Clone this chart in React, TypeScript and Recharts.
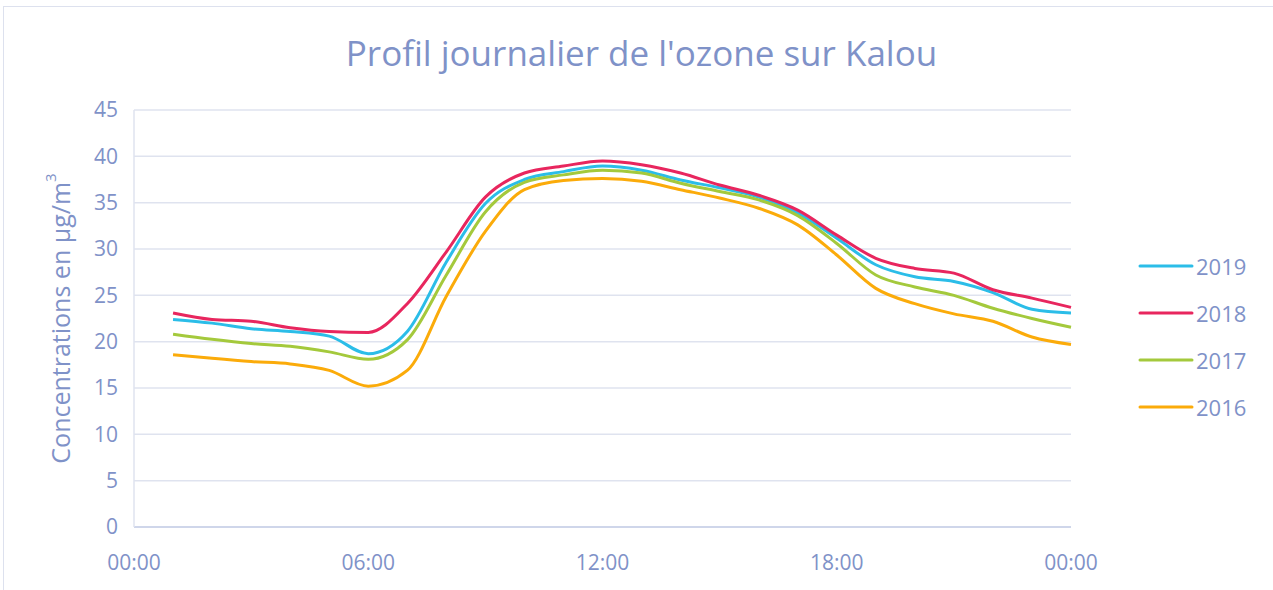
import React from "react";
import {
  LineChart,
  Line,
  XAxis,
  YAxis,
  CartesianGrid,
  Label,
} from "recharts";

const hours = [1, 2, 3, 4, 5, 6, 7, 8, 9, 10, 11, 12, 13, 14, 15, 16, 17, 18, 19, 20, 21, 22, 23, 24];

const s2019 = [22.4, 22.0, 21.4, 21.1, 20.6, 18.7, 21.1, 28.6, 34.9, 37.5, 38.35, 38.95, 38.5, 37.45, 36.6, 35.6, 33.9, 31.15, 28.3, 27.0, 26.5, 25.3, 23.5, 23.1];
const s2018 = [23.1, 22.4, 22.2, 21.5, 21.1, 21.0, 24.1, 29.7, 35.6, 38.2, 38.95, 39.5, 39.1, 38.2, 36.9, 35.8, 34.2, 31.5, 29.0, 27.9, 27.4, 25.6, 24.7, 23.7];
const s2017 = [20.8, 20.25, 19.8, 19.5, 18.9, 18.1, 20.2, 27.2, 34.0, 37.2, 38.0, 38.5, 38.2, 37.1, 36.2, 35.3, 33.6, 30.6, 27.2, 25.9, 25.0, 23.6, 22.5, 21.55];
const s2016 = [18.6, 18.2, 17.85, 17.6, 16.9, 15.2, 16.9, 24.9, 31.9, 36.4, 37.4, 37.6, 37.3, 36.4, 35.5, 34.4, 32.6, 29.35, 25.75, 24.1, 23.0, 22.2, 20.5, 19.7];

const xTicks = [0, 6, 12, 18, 24];
const xTickLabels = ["00:00", "06:00", "12:00", "18:00", "00:00"];
const yTicks = [0, 5, 10, 15, 20, 25, 30, 35, 40, 45];

const series = [
  { key: "y2019", name: "2019", color: "#2bbde8", values: s2019 },
  { key: "y2018", name: "2018", color: "#e8265e", values: s2018 },
  { key: "y2017", name: "2017", color: "#a4c93c", values: s2017 },
  { key: "y2016", name: "2016", color: "#fbab0a", values: s2016 },
];

const data = hours.map((h, i) => {
  const row: Record<string, number> = { hour: h };
  series.forEach((s) => {
    row[s.key] = s.values[i];
  });
  return row;
});

const textColor = "#7f92c8";
const font = "'Open Sans', 'Noto Sans', sans-serif";

function LegendBox() {
  return (
    <div
      style={{
        position: "absolute",
        left: 1137,
        top: 242,
        fontFamily: font,
      }}
    >
      {series.map((s) => (
        <div
          key={s.key}
          style={{ display: "flex", alignItems: "center", height: 47 }}
        >
          <svg width={59} height={10}>
            <line
              x1={3}
              y1={5}
              x2={55}
              y2={5}
              stroke={s.color}
              strokeWidth={3}
              strokeLinecap="round"
            />
          </svg>
          <span style={{ color: textColor, fontSize: 22 }}>{s.name}</span>
        </div>
      ))}
    </div>
  );
}

export default function App() {
  return (
    <div
      style={{
        position: "absolute",
        left: 0,
        top: 0,
        width: 1273,
        height: 590,
        background: "#fff",
        overflow: "hidden",
        fontFamily: font,
      }}
    >
      <div
        style={{
          position: "absolute",
          left: 3,
          top: 6,
          width: 1290,
          height: 620,
          border: "1px solid #dde1ee",
        }}
      />
      <div
        style={{
          position: "absolute",
          top: 29,
          left: 0,
          width: 1283,
          textAlign: "center",
          fontSize: 35,
          color: textColor,
        }}
      >
        Profil journalier de l'ozone sur Kalou
      </div>
      <LineChart
        width={1273}
        height={590}
        data={data}
        margin={{ top: 110, right: 202, bottom: 0, left: 0 }}
        style={{ position: "absolute", left: 0, top: 0 }}
      >
        <CartesianGrid vertical={false} stroke="#dfe3ef" strokeWidth={1.5} />
        <XAxis
          dataKey="hour"
          type="number"
          domain={[0, 24]}
          ticks={xTicks}
          tickFormatter={(v: number) => xTickLabels[xTicks.indexOf(v)]}
          height={63}
          tickLine={false}
          tickSize={0}
          tickMargin={28}
          stroke="#cfd6ea"
          strokeWidth={2}
          tick={{ fill: textColor, fontSize: 21, fontFamily: font }}
        />
        <YAxis
          domain={[0, 45]}
          ticks={yTicks}
          width={134}
          tickLine={false}
          tickSize={0}
          tickMargin={16}
          stroke="#dfe3ef"
          strokeWidth={1.5}
          tick={{ fill: textColor, fontSize: 21, fontFamily: font }}
        >
          <Label
            content={({ viewBox }: any) => {
              const cy = viewBox.y + viewBox.height / 2;
              return (
                <text
                  x={60}
                  y={cy}
                  transform={`rotate(-90 60 ${cy})`}
                  textAnchor="middle"
                  dominantBaseline="central"
                  fill={textColor}
                  fontSize={25}
                  fontFamily={font}
                >
                  Concentrations en µg/m
                  <tspan fontSize={15} dy={-10}>
                    3
                  </tspan>
                </text>
              );
            }}
          />
        </YAxis>
        {series.map((s) => (
          <Line
            key={s.key}
            dataKey={s.key}
            name={s.name}
            type="monotone"
            stroke={s.color}
            strokeWidth={3}
            dot={false}
            activeDot={false}
            isAnimationActive={false}
          />
        ))}
      </LineChart>
      <LegendBox />
    </div>
  );
}
